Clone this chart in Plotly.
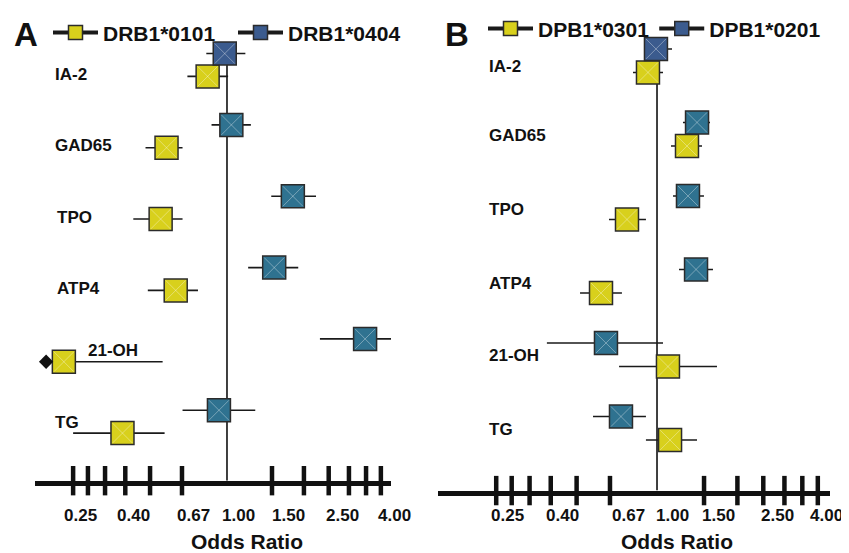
import math
import plotly.graph_objects as go

# The page body has an 8px default margin, so the figure is drawn 8px smaller
# and all layout pixel positions (measured on the 849x553 page) are shifted.
PAGE_W, PAGE_H = 849, 553
OFF = 8
W, H = PAGE_W - OFF, PAGE_H - OFF


def px(x):
    return (x - OFF) / W


def py(y):
    return 1 - (y - OFF) / H


FONT = "Liberation Sans, Arial, Helvetica, sans-serif"

# ---------------- data ----------------
antigens = ["IA-2", "GAD65", "TPO", "ATP4", "21-OH", "TG"]

# Panel A
a_name1 = "DRB1*0101"
a_name2 = "DRB1*0404"
a1_or = [0.84, 0.58, 0.55, 0.63, 0.23, 0.39]
a1_lo = [0.70, 0.48, 0.43, 0.49, 0.196, 0.25]
a1_hi = [1.01, 0.67, 0.67, 0.77, 0.56, 0.57]
a1_truncated = [False, False, False, False, True, False]
a2_or = [0.98, 1.04, 1.81, 1.53, 3.47, 0.93]
a2_lo = [0.83, 0.87, 1.49, 1.21, 2.31, 0.67]
a2_hi = [1.18, 1.24, 2.23, 1.90, 4.42, 1.29]

# Panel B
b_name1 = "DPB1*0301"
b_name2 = "DPB1*0201"
b1_or = [0.925, 1.295, 0.772, 0.617, 1.099, 1.119]
b1_lo = [0.813, 1.128, 0.661, 0.515, 0.721, 0.909]
b1_hi = [1.053, 1.474, 0.909, 0.739, 1.677, 1.412]
b2_or = [0.991, 1.412, 1.306, 1.400, 0.644, 0.733]
b2_lo = [0.902, 1.251, 1.148, 1.209, 0.387, 0.576]
b2_hi = [1.138, 1.579, 1.499, 1.620, 1.053, 0.909]

tick_marks = [0.25, 2 / 7, 1 / 3, 0.4, 0.5, 2 / 3, 1.5, 2.0, 2.5, 3.0, 3.5, 4.0]
tick_label_vals = [0.25, 0.40, 0.67, 1.00, 1.50, 2.50, 4.00]
tick_label_text = ["0.25", "0.40", "0.67", "1.00", "1.50", "2.50", "4.00"]
x_title = "Odds Ratio"
ref_value = 1.0

# ---------------- style ----------------
YELLOW = "#d8d01c"
TEAL = "#2f7290"
NAVY = "#3b5b8e"
EDGE = "#2b2b2b"
MSIZE = 23
BLUE_OFF = 0.32

rows = list(range(len(antigens)))

panels = [
    dict(xa="x", ya="y", xdom=[px(35), px(391)], ydom=[py(480), py(20)],
         xr=[-0.7512, 0.6417], yr=[5.667, -0.722],
         s1=(a_name1, a1_or, a1_lo, a1_hi), s2=(a_name2, a2_or, a2_lo, a2_hi),
         lab_x=[53, 53, 55, 55, 86, 53], lab_dy=[-2, -2, -2, -2, -11, -11],
         tshift=[7, 8, 11, 12, 16, 14, 14], legend="legend", letter="A",
         letter_x=12, title_x=247,
         blue_colors=[NAVY, TEAL, TEAL, TEAL, TEAL, TEAL]),
    dict(xa="x2", ya="y2", xdom=[px(438), px(830)], ydom=[py(490), py(20)],
         xr=[-0.820, 0.6477], yr=[5.687, -0.647],
         s1=(b_name1, b1_or, b1_lo, b1_hi), s2=(b_name2, b2_or, b2_lo, b2_hi),
         lab_x=[487] * 6, lab_dy=[-6, -10, -10, -10, -11, -11],
         tshift=[11, 12, 18, 15, 14, 14, 9], legend="legend2", letter="B",
         letter_x=443, title_x=677,
         blue_colors=[NAVY, TEAL, TEAL, TEAL, TEAL, TEAL]),
]

fig = go.Figure()
annotations = []
shapes = []

for pi, p in enumerate(panels):
    xa, ya = p["xa"], p["ya"]
    ybot = p["yr"][0]
    # reference line at OR = 1
    shapes.append(dict(type="line", xref=xa, yref=ya, x0=ref_value, x1=ref_value,
                       y0=-BLUE_OFF, y1=ybot, line=dict(color="#111", width=1.6),
                       layer="below"))
    for si, (ser, off, colors) in enumerate([
            (p["s1"], 0.0, [YELLOW] * 6),
            (p["s2"], -BLUE_OFF, p["blue_colors"])]):
        name, orv, lo, hi = ser
        ys = [r + off for r in rows]
        fig.add_trace(go.Scatter(
            x=orv, y=ys, xaxis=xa, yaxis=ya, mode="markers", showlegend=False,
            error_x=dict(type="data", symmetric=False,
                         array=[h - o for h, o in zip(hi, orv)],
                         arrayminus=[o - l for o, l in zip(orv, lo)],
                         color="#1a1a1a", thickness=1.6, width=0),
            marker=dict(symbol="square", size=MSIZE, color=colors,
                        line=dict(color=EDGE, width=1.5)),
            hoverinfo="skip"))
        # pyramid bevel
        fig.add_trace(go.Scatter(
            x=orv, y=ys, xaxis=xa, yaxis=ya, mode="markers", showlegend=False,
            marker=dict(symbol="x-thin-open", size=MSIZE - 3,
                        color="rgba(255,255,255,0.35)", line=dict(width=1)),
            hoverinfo="skip"))
        # legend entry
        fig.add_trace(go.Scatter(
            x=[None], y=[None], xaxis=xa, yaxis=ya, mode="lines+markers",
            name=name, legend=p["legend"],
            line=dict(color="#1a1a1a", width=4),
            marker=dict(symbol="square", size=14,
                        color=YELLOW if si == 0 else NAVY,
                        line=dict(color=EDGE, width=1.5))))
    # truncated CI arrow (panel A, 21-OH)
    if pi == 0:
        tx = [l for l, t in zip(a1_lo, a1_truncated) if t]
        ty = [r for r, t in zip(rows, a1_truncated) if t]
        fig.add_trace(go.Scatter(x=tx, y=ty, xaxis=xa, yaxis=ya, mode="markers",
                                 showlegend=False, hoverinfo="skip",
                                 marker=dict(symbol="diamond", size=11, color="#111")))
    # tick marks crossing the axis line
    fig.add_trace(go.Scatter(x=tick_marks, y=[ybot] * len(tick_marks), xaxis=xa, yaxis=ya,
                             mode="markers", showlegend=False, hoverinfo="skip",
                             cliponaxis=False,
                             marker=dict(symbol="line-ns", size=21,
                                         line=dict(color="#111", width=4.5))))
    # tick labels
    for v, t, sh in zip(tick_label_vals, tick_label_text, p["tshift"]):
        annotations.append(dict(x=math.log10(v), xref=xa, y=py(515), yref="paper",
                                text=t, showarrow=False, xshift=sh,
                                font=dict(family=FONT, size=17, color="#111", weight="bold"),
                                xanchor="center", yanchor="middle"))
    # row labels
    for r, lab, lx, dy in zip(rows, antigens, p["lab_x"], p["lab_dy"]):
        annotations.append(dict(x=px(lx), xref="paper", y=r, yref=ya, yshift=-dy,
                                text=lab, showarrow=False, xanchor="left", yanchor="middle",
                                font=dict(family=FONT, size=17, color="#111", weight="bold")))
    # axis title
    annotations.append(dict(x=px(p["title_x"]), xref="paper", y=py(541), yref="paper",
                            text=x_title, showarrow=False, xanchor="center", yanchor="middle",
                            font=dict(family=FONT, size=21, color="#111", weight="bold")))
    # panel letter
    annotations.append(dict(x=px(p["letter_x"]), xref="paper", y=py(30), yref="paper",
                            text=p["letter"], showarrow=False, xanchor="left", yanchor="middle",
                            font=dict(family=FONT, size=33, color="#111", weight="bold")))

axis_common = dict(showgrid=False, zeroline=False, ticks="", showticklabels=False)
legend_common = dict(orientation="h", xanchor="left", yanchor="middle",
                     font=dict(family=FONT, size=21, color="#111", weight="bold"),
                     itemwidth=45, bgcolor="rgba(0,0,0,0)", borderwidth=0,
                     itemclick=False, itemdoubleclick=False, tracegroupgap=0)

fig.update_layout(
    width=W, height=H, margin=dict(l=0, r=0, t=0, b=0),
    paper_bgcolor="white", plot_bgcolor="white",
    xaxis=dict(domain=panels[0]["xdom"], type="log", range=panels[0]["xr"], anchor="y",
               showline=True, linewidth=5, linecolor="#111", **axis_common),
    yaxis=dict(domain=panels[0]["ydom"], range=panels[0]["yr"], anchor="x",
               showline=False, **axis_common),
    xaxis2=dict(domain=panels[1]["xdom"], type="log", range=panels[1]["xr"], anchor="y2",
                showline=True, linewidth=5, linecolor="#111", **axis_common),
    yaxis2=dict(domain=panels[1]["ydom"], range=panels[1]["yr"], anchor="x2",
                showline=False, **axis_common),
    legend=dict(x=px(48), y=py(28), entrywidth=125, entrywidthmode="pixels",
                **legend_common),
    legend2=dict(x=px(483), y=py(24), **legend_common),
    annotations=annotations, shapes=shapes, showlegend=True,
)

fig.write_html("out.html")
